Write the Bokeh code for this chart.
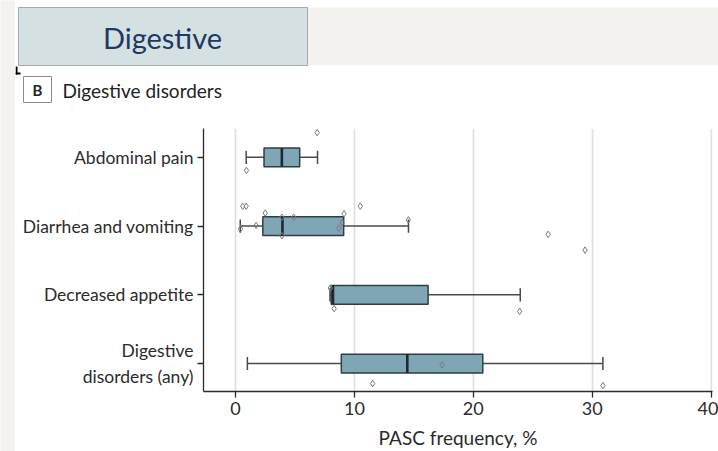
from bokeh.plotting import figure
from bokeh.layouts import row, column
from bokeh.models import Range1d, FixedTicker
from bokeh.core.properties import value
from bokeh.embed import file_html
from bokeh.resources import INLINE

# Summary of PASC frequency (%) per digestive outcome
categories = ["Abdominal pain", "Diarrhea and vomiting", "Decreased appetite",
              "Digestive\ndisorders (any)"]
whisker_low = [0.9, 0.4, 7.95, 1.0]
q1 = [2.4, 2.3, 8.05, 8.9]
median = [3.9, 3.95, 8.2, 14.45]
q3 = [5.4, 9.1, 16.2, 20.8]
whisker_high = [6.9, 14.55, 23.95, 30.9]

# Individual study estimates: outcome index, value, vertical jitter
study_outcome = [0, 0,
                 1, 1, 1, 1, 1, 1, 1, 1, 1, 1, 1, 1, 1, 1, 1,
                 2, 2, 2,
                 3, 3, 3]
study_value = [6.87, 0.92,
               0.61, 0.90, 1.74, 0.42, 2.5, 3.9, 3.9, 4.9, 9.13, 8.97, 8.68,
               10.5, 26.3, 29.4, 14.54,
               8.3, 23.9, 7.98,
               17.37, 11.54, 30.9]
study_jitter = [0.36, -0.19,
                0.29, 0.29, 0.01, -0.04, 0.19, 0.13, -0.14, 0.13, 0.18, 0.05,
                -0.03, 0.29, -0.12, -0.35, 0.09,
                -0.2, -0.24, 0.1,
                -0.02, -0.29, -0.32]

x_ticks = [0, 10, 20, 30, 40]

n = len(categories)
rows = [n - i for i in range(n)]
box_h = 0.275
cap_h = 0.095

FONT = "Lato"
INK = "#2b2b2b"
SLIDE = "#f3f2ee"


def blank(width, height, **kw):
    f = figure(width=width, height=height, output_backend="svg", toolbar_location=None,
               min_border=0, frame_align=False, **kw)
    f.axis.visible = False
    f.grid.visible = False
    f.outline_line_color = None
    return f


# left margin strip of the slide
strip = blank(15, 451, x_range=Range1d(0, 1), y_range=Range1d(0, 1))
strip.background_fill_color = SLIDE
strip.border_fill_color = SLIDE

# slide header and panel title (pixel coordinates, y downwards)
top = blank(703, 110, x_range=Range1d(15, 718), y_range=Range1d(110, 0))
top.background_fill_color = "white"
top.border_fill_color = "white"
top.quad(left=[307], right=[718], top=[7], bottom=[65], fill_color=SLIDE, line_color=None)
top.quad(left=[18], right=[307], top=[7], bottom=[65], fill_color="#d5e0e2",
         line_color="#a3aaac", line_width=1)
top.text(x=[162], y=[37], text=["Digestive"], text_font=value(FONT), text_font_size="29px",
         text_color="#1f3864", text_align="center", text_baseline="middle")
top.quad(left=[15, 15], right=[17, 20], top=[66, 72], bottom=[74, 74],
         fill_color="black", line_color=None)
top.quad(left=[23], right=[51], top=[76], bottom=[102], fill_color="white",
         line_color="#8c8c8c", line_width=1)
top.text(x=[37], y=[89.5], text=["B"], text_font=value(FONT), text_font_size="15px",
         text_font_style="bold", text_color="#222222", text_align="center",
         text_baseline="middle")
top.text(x=[62], y=[89.5], text=["Digestive disorders"], text_font=value(FONT),
         text_font_size="19px", text_color="#222222", text_align="left",
         text_baseline="middle")

# main chart
p = figure(width=703, height=341, output_backend="svg", toolbar_location=None,
           x_range=Range1d(-2.69, 40.12), y_range=Range1d(0.594, 4.42),
           min_border_left=188, min_border_right=6,
           min_border_top=18, min_border_bottom=59, frame_align=False)
p.outline_line_color = None
p.background_fill_color = "white"
p.border_fill_color = "white"

p.xaxis.ticker = FixedTicker(ticks=x_ticks)
p.yaxis.ticker = FixedTicker(ticks=rows)
p.yaxis.major_label_overrides = {r: c for r, c in zip(rows, categories)}
for ax in (p.xaxis[0], p.yaxis[0]):
    ax.axis_line_color = INK
    ax.axis_line_width = 1.3
    ax.major_tick_line_color = INK
    ax.major_tick_line_width = 1.3
    ax.major_tick_in = 0
    ax.major_tick_out = 6
    ax.minor_tick_line_color = None
    ax.major_label_text_font = FONT
    ax.major_label_text_color = INK
p.yaxis.major_label_text_font_size = "17.5px"
p.xaxis.major_label_text_font_size = "18px"
p.yaxis.major_label_standoff = 4
p.xaxis.major_label_standoff = 4
p.xaxis.axis_label = "PASC frequency, %"
p.xaxis.axis_label_text_font = FONT
p.xaxis.axis_label_text_font_size = "19px"
p.xaxis.axis_label_text_font_style = "normal"
p.xaxis.axis_label_text_color = INK
p.xaxis.axis_label_standoff = 8

p.ygrid.visible = False
p.xgrid.ticker = FixedTicker(ticks=x_ticks)
p.xgrid.grid_line_color = "#dedede"
p.xgrid.grid_line_width = 1.6

# whiskers and caps
WH = dict(line_color="#4a4a4a", line_width=1.5)
p.segment(x0=whisker_low, x1=q1, y0=rows, y1=rows, **WH)
p.segment(x0=q3, x1=whisker_high, y0=rows, y1=rows, **WH)
p.segment(x0=whisker_low, x1=whisker_low, y0=[r - cap_h for r in rows],
          y1=[r + cap_h for r in rows], **WH)
p.segment(x0=whisker_high, x1=whisker_high, y0=[r - cap_h for r in rows],
          y1=[r + cap_h for r in rows], **WH)

# interquartile boxes and medians
p.hbar(y=rows, left=q1, right=q3, height=box_h, fill_color="#7fa6b5",
       line_color="#2f3d44", line_width=1.5)
p.segment(x0=median, x1=median, y0=[r - box_h / 2 for r in rows],
          y1=[r + box_h / 2 for r in rows], line_color="#1e2a30", line_width=2.6)

# study points
study_y = [rows[o] + j for o, j in zip(study_outcome, study_jitter)]
p.scatter(x=study_value, y=study_y, marker="diamond", size=6.5, fill_color=None,
          line_color="#7a7a7a", line_width=1)

page = row(strip, column(top, p, spacing=0), spacing=0)
open("out.html", "w").write(file_html(page, INLINE))
